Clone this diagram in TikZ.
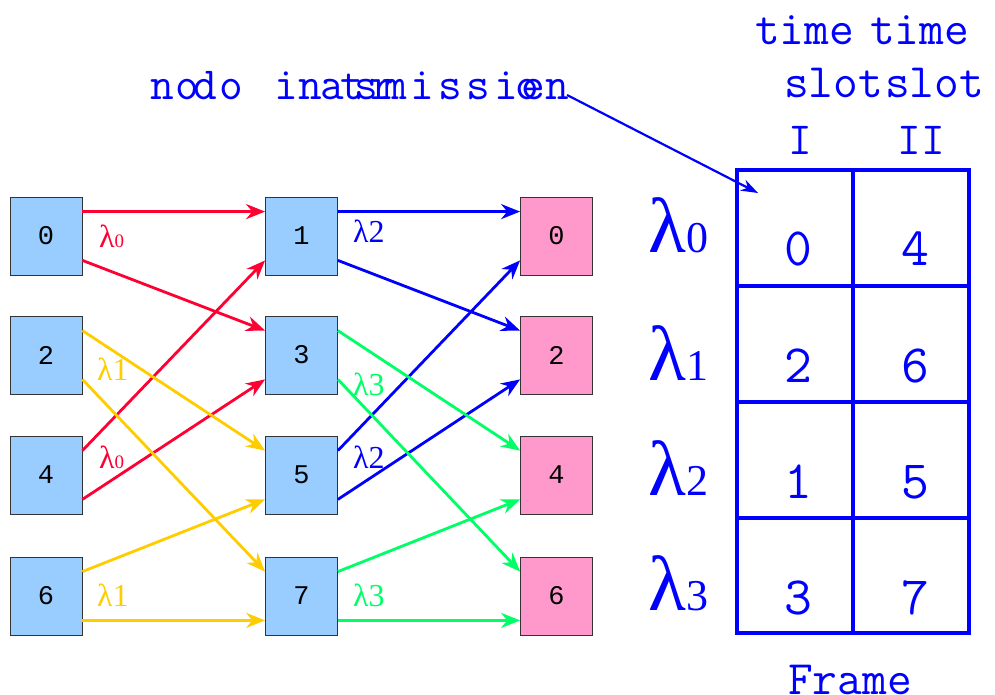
\documentclass[tikz,border=0pt]{standalone}
\usepackage{fontspec}
\setmainfont{Liberation Serif}
\newfontfamily\boxfont{Liberation Mono}
\usetikzlibrary{arrows.meta}
\definecolor{srcfill}{HTML}{99CCFF}
\definecolor{dstfill}{HTML}{FF99CC}
\definecolor{lred}{HTML}{FF0033}
\definecolor{lyellow}{HTML}{FFCC00}
\definecolor{lgreen}{HTML}{00FF66}
\definecolor{lblue}{HTML}{0000FF}
\begin{document}
\begin{tikzpicture}[x=1pt,y=-1pt,
  nbox/.style={draw=black!80, line width=0.8pt, minimum width=72pt, minimum height=78pt,
    inner sep=0pt, font=\fontsize{27}{27}\selectfont\boxfont},
  srcbox/.style={nbox, fill=srcfill},
  dstbox/.style={nbox, fill=dstfill},
  link/.style={line width=2.8pt, -{Stealth[length=19pt,width=15pt]}},
  wl/.style={anchor=west, inner sep=0pt, font=\fontsize{32}{32}\selectfont},
  bigwl/.style={anchor=base west, inner sep=0pt, text=lblue, font=\fontsize{78}{78}\selectfont},
  glyph/.style={anchor=base, inner sep=0pt, text=lblue, font=\fontsize{46}{46}\selectfont\ttfamily},
  hdr/.style={anchor=base west, inner sep=0pt, text=lblue, font=\fontsize{48}{48}\selectfont\ttfamily},
  cell/.style={anchor=base, inner sep=0pt, text=lblue, font=\fontsize{54}{54}\selectfont\ttfamily},
  grid/.style={draw=lblue, line width=3.4pt},
]
\useasboundingbox (0,0) rectangle (995,695);

% switch nodes: input stage, middle stage, output stage
\node[srcbox] (L0) at (46,236) {0};
\node[srcbox] (L1) at (46,355) {2};
\node[srcbox] (L2) at (46,475) {4};
\node[srcbox] (L3) at (46,596) {6};
\node[srcbox] (M0) at (301.5,236) {1};
\node[srcbox] (M1) at (301.5,355) {3};
\node[srcbox] (M2) at (301.5,475) {5};
\node[srcbox] (M3) at (301.5,596) {7};
\node[dstbox] (R0) at (556.5,236) {0};
\node[dstbox] (R1) at (556.5,355) {2};
\node[dstbox] (R2) at (556.5,475) {4};
\node[dstbox] (R3) at (556.5,596) {6};

% first stage links
\draw[link,lred] ([yshift=-15pt]L0.north east) -- ([yshift=-15pt]M0.north west);
\draw[link,lred] ([yshift=15pt]L0.south east) -- ([yshift=-15pt]M1.north west);
\draw[link,lred] ([yshift=-15pt]L2.north east) -- ([yshift=15pt]M0.south west);
\draw[link,lred] ([yshift=15pt]L2.south east) -- ([yshift=15pt]M1.south west);
\draw[link,lyellow] ([yshift=-15pt]L1.north east) -- ([yshift=-15pt]M2.north west);
\draw[link,lyellow] ([yshift=15pt]L1.south east) -- ([yshift=-15pt]M3.north west);
\draw[link,lyellow] ([yshift=-15pt]L3.north east) -- ([yshift=15pt]M2.south west);
\draw[link,lyellow] ([yshift=15pt]L3.south east) -- ([yshift=15pt]M3.south west);

% second stage links
\draw[link,lblue] ([yshift=-15pt]M0.north east) -- ([yshift=-15pt]R0.north west);
\draw[link,lblue] ([yshift=15pt]M0.south east) -- ([yshift=-15pt]R1.north west);
\draw[link,lblue] ([yshift=-15pt]M2.north east) -- ([yshift=15pt]R0.south west);
\draw[link,lblue] ([yshift=15pt]M2.south east) -- ([yshift=15pt]R1.south west);
\draw[link,lgreen] ([yshift=-15pt]M1.north east) -- ([yshift=-15pt]R2.north west);
\draw[link,lgreen] ([yshift=15pt]M1.south east) -- ([yshift=-15pt]R3.north west);
\draw[link,lgreen] ([yshift=-15pt]M3.north east) -- ([yshift=15pt]R2.south west);
\draw[link,lgreen] ([yshift=15pt]M3.south east) -- ([yshift=15pt]R3.south west);

% wavelength labels on the links
\node[wl,text=lred] (w0a) at (99,236) {λ\fontsize{19}{19}\selectfont 0};
\node[wl,text=lyellow] (w1a) at (97,369) {λ1};
\node[wl,text=lred] (w0b) at (99,457) {λ\fontsize{19}{19}\selectfont 0};
\node[wl,text=lyellow] (w1b) at (97,595) {λ1};
\node[wl,text=lblue] (w2a) at (353,231) {λ2};
\node[wl,text=lgreen] (w3a) at (353,384) {λ3};
\node[wl,text=lblue] (w2b) at (353,457) {λ2};
\node[wl,text=lgreen] (w3b) at (353,595) {λ3};

% label of the node in transmission
\foreach \ch/\px [count=\k] in {n/162,o/187,d/205,o/231,i/286,n/310,t/352,r/382,a/332,s/366,
    m/395,i/422,s/450,s/478,i/506,o/527,n/557,e/533}
  \node[glyph] (g\k) at (\px,100) {\ch};

% time slot headers
\node[hdr] (t1) at (755,45) {time};
\node[hdr] (t2) at (870,45) {time};
\node[hdr] (s1) at (784,98) {slot};
\node[hdr] (s2) at (885,98) {slot};
\node[glyph] (n1) at (800,155) {I};
\node[glyph] (n2) at (921,155) {II};

% frame table
\draw[grid] (737,170) rectangle (969,633);
\draw[grid] (853,170) -- (853,633);
\foreach \yy in {286,402,518} \draw[grid] (737,\yy) -- (969,\yy);
\node[cell] (c00) at (798,265) {0};
\node[cell] (c01) at (915,265) {4};
\node[cell] (c10) at (798,382) {2};
\node[cell] (c11) at (915,382) {6};
\node[cell] (c20) at (798,498) {1};
\node[cell] (c21) at (915,498) {5};
\node[cell] (c30) at (798,614) {3};
\node[cell] (c31) at (915,614) {7};
\node[hdr] (fr) at (788,694) {Frame};

% wavelengths of the frame rows
\node[bigwl] (b0) at (648,252) {λ\fontsize{44}{44}\selectfont 0};
\node[bigwl] (b1) at (648,380) {λ\fontsize{44}{44}\selectfont 1};
\node[bigwl] (b2) at (648,495) {λ\fontsize{44}{44}\selectfont 2};
\node[bigwl] (b3) at (648,610) {λ\fontsize{44}{44}\selectfont 3};

% pointer from the label into the frame
\coordinate (pa) at (567,95);
\coordinate (pb) at (758,193);
\draw[lblue, line width=2.2pt, -{Stealth[length=17pt,width=12pt]}] (pa) -- (pb);
\end{tikzpicture}
\end{document}
